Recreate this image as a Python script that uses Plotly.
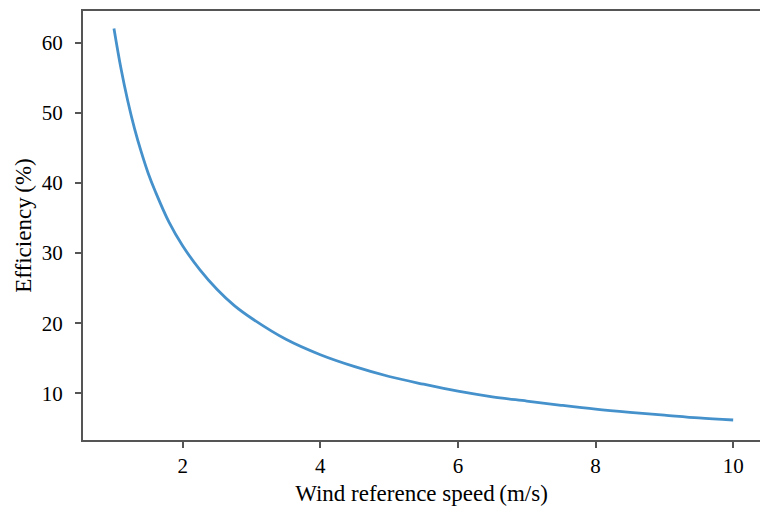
import plotly.graph_objects as go

wind_speed = [1.0, 1.1, 1.2, 1.3, 1.4, 1.5, 1.6, 1.8, 2.0, 2.25, 2.5, 2.75, 3.0, 3.5, 4.0,
              4.5, 5.0, 5.5, 6.0, 6.5, 7.0, 7.5, 8.0, 8.5, 9.0, 9.5, 10.0]
efficiency = [62.0, 56.4, 51.7, 47.7, 44.3, 41.3, 38.8, 34.4, 31.0, 27.6, 24.8, 22.5, 20.7,
              17.7, 15.5, 13.8, 12.4, 11.3, 10.3, 9.5, 8.9, 8.3, 7.75, 7.3, 6.9, 6.5, 6.2]

x_ticks = [2, 4, 6, 8, 10]
y_ticks = [10, 20, 30, 40, 50, 60]

fig = go.Figure()
fig.add_trace(go.Scatter(
    x=wind_speed, y=efficiency, mode="lines",
    line=dict(color="#4591cc", width=2.8, shape="spline"),
    showlegend=False,
))

font = dict(family="Liberation Serif, Times New Roman, serif", size=21, color="black")

fig.update_layout(
    width=760, height=509,
    margin=dict(l=83, r=0, t=11, b=69),
    paper_bgcolor="white", plot_bgcolor="white",
    font=font,
    xaxis=dict(
        range=[0.55, 10.39], tickvals=x_ticks, ticks="outside", ticklen=6, tickwidth=1.5,
        tickcolor="#555", showline=True, linecolor="#555", linewidth=2, mirror=True,
        showgrid=False, zeroline=False,
        title=dict(text="Wind reference speed\u2009(m/s)", font=dict(size=23), standoff=8),
        tickfont=dict(size=21),
    ),
    yaxis=dict(
        range=[3.35, 64.5], tickvals=y_ticks, ticks="outside", ticklen=6, tickwidth=1.5,
        tickcolor="#555", showline=True, linecolor="#555", linewidth=2,
        showgrid=False, zeroline=False, ticklabelstandoff=8,
        title=dict(text="Efficiency\u2009(%)", font=dict(size=23), standoff=4),
        tickfont=dict(size=21),
    ),
)

fig.write_html("out.html")
